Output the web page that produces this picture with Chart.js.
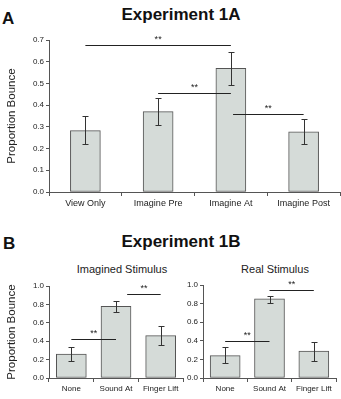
<!DOCTYPE html>
<html>
<head>
<meta charset="utf-8">
<script src="https://cdn.jsdelivr.net/npm/chart.js@4"></script>
<style>
  html,body{margin:0;padding:0;background:#fff;}
  body{width:341px;height:399px;position:relative;overflow:hidden;font-family:"Liberation Sans",Arial,sans-serif;color:#111;}
  .lbl{position:absolute;white-space:nowrap;}
  .big{font-size:17px;font-weight:bold;}
  .sub{font-size:11px;color:#222;transform:translateX(-50%);}
  canvas{position:absolute;}
</style>
</head>
<body>
<div class="lbl big" style="left:2px;top:9px;">A</div>
<div class="lbl big" style="left:181px;top:5px;transform:translateX(-50%);">Experiment 1A</div>
<div class="lbl big" style="left:3px;top:234px;">B</div>
<div class="lbl big" style="left:181px;top:232px;transform:translateX(-50%);">Experiment 1B</div>
<div class="lbl sub" style="left:122px;top:263px;">Imagined Stimulus</div>
<div class="lbl sub" style="left:275px;top:263px;">Real Stimulus</div>
<div style="position:absolute;left:0;top:30px;width:341px;height:190px;"><canvas id="c1A"></canvas></div>
<div style="position:absolute;left:0;top:275px;width:190px;height:124px;"><canvas id="c1BImag"></canvas></div>
<div style="position:absolute;left:170px;top:275px;width:171px;height:124px;"><canvas id="c1BReal"></canvas></div>
<script>
'use strict';
// Experiment 1A
const labels1A=['View Only','Imagine Pre','Imagine At','Imagine Post'];
const values1A=[0.283,0.37,0.57,0.277];
const lower1A=[0.22,0.31,0.495,0.222];
const upper1A=[0.35,0.432,0.645,0.335];
const sig1A=[[0,2,0.677],[1,2,0.456],[2.03,3,0.359]]; // from index, to index, height
const ticks1A=[0,0.1,0.2,0.3,0.4,0.5,0.6,0.7];

// Experiment 1B
const labels1B=['None','Sound At','Finger Lift'];
const valuesImag=[0.26,0.78,0.46];
const lowerImag=[0.18,0.72,0.36];
const upperImag=[0.34,0.84,0.57];
const sigImag=[[0,1,0.42],[1.25,2,0.91]];
const valuesReal=[0.24,0.85,0.29];
const lowerReal=[0.16,0.81,0.18];
const upperReal=[0.33,0.88,0.39];
const sigReal=[[0,1,0.40],[1,2,0.95]];
const ticks1B=[0,0.2,0.4,0.6,0.8,1.0];

const FONT='"Liberation Sans", Arial, sans-serif';

function xAt(scale,f){
  const i=Math.floor(f);
  const a=scale.getPixelForValue(i);
  if(f===i)return a;
  const b=scale.getPixelForValue(i+1);
  return a+(b-a)*(f-i);
}

const marksPlugin={
  id:'marks',
  afterDatasetsDraw(chart,args,opts){
    const ctx=chart.ctx,x=chart.scales.x,y=chart.scales.y;
    ctx.save();
    ctx.strokeStyle='#333';
    ctx.lineWidth=1;
    opts.lo.forEach((lo,i)=>{
      const px=Math.round(x.getPixelForValue(i))+0.5;
      const y0=Math.round(y.getPixelForValue(lo))+0.5;
      const y1=Math.round(y.getPixelForValue(opts.hi[i]))+0.5;
      ctx.beginPath();
      ctx.moveTo(px,y0);ctx.lineTo(px,y1);
      ctx.moveTo(px-3,y0);ctx.lineTo(px+3,y0);
      ctx.moveTo(px-3,y1);ctx.lineTo(px+3,y1);
      ctx.stroke();
    });
    ctx.strokeStyle='#222';
    ctx.fillStyle='#222';
    ctx.font='9px '+FONT;
    ctx.textAlign='center';
    ctx.textBaseline='bottom';
    opts.sig.forEach(s=>{
      const xa=xAt(x,s[0]),xb=xAt(x,s[1]);
      const py=Math.round(y.getPixelForValue(s[2]))+0.5;
      ctx.beginPath();ctx.moveTo(xa,py);ctx.lineTo(xb,py);ctx.stroke();
      ctx.fillText('**',(xa+xb)/2,py-1);
    });
    ctx.restore();
  }
};

function buildConfig(labels,values,lo,hi,sig,ticks,yWidth,xHeight,showTitle,pad,xFont){
  return {
    type:'bar',
    data:{labels,datasets:[{data:values,backgroundColor:'#d5dbd8',borderColor:'#555',borderWidth:1,borderSkipped:false,barThickness:30}]},
    plugins:[marksPlugin],
    options:{
      responsive:true,
      maintainAspectRatio:false,
      animation:false,
      layout:{padding:pad},
      plugins:{legend:{display:false},tooltip:{enabled:false},marks:{lo,hi,sig}},
      scales:{
        x:{
          grid:{display:true,offset:true,drawOnChartArea:false,tickLength:4,color:'#555'},
          border:{color:'#555'},
          ticks:{font:{family:FONT,size:xFont},color:'#222',padding:2,maxRotation:0,autoSkip:false},
          afterFit:s=>{s.width;s.height=xHeight;}
        },
        y:{
          min:0,max:ticks[ticks.length-1],
          afterBuildTicks:s=>{s.ticks=ticks.map(v=>({value:v}));},
          grid:{display:true,drawOnChartArea:false,tickLength:3,color:'#555'},
          border:{color:'#555'},
          ticks:{font:{family:FONT,size:8},color:'#222',padding:2,callback:v=>Number(v).toFixed(1)},
          title:{display:showTitle,text:'Proportion Bounce',font:{family:FONT,size:11.5},color:'#222',padding:{top:5,bottom:6}},
          afterFit:s=>{s.width=yWidth;}
        }
      }
    }
  };
}

new Chart(document.getElementById('c1A'),buildConfig(labels1A,values1A,lower1A,upper1A,sig1A,ticks1A,49,28,true,{top:10,right:1,left:0,bottom:0},9));
new Chart(document.getElementById('c1BImag'),buildConfig(labels1B,valuesImag,lowerImag,upperImag,sigImag,ticks1B,49,21,true,{top:11,right:7,left:0,bottom:0},8));
new Chart(document.getElementById('c1BReal'),buildConfig(labels1B,valuesReal,lowerReal,upperReal,sigReal,ticks1B,33,21,false,{top:10,right:5,left:0,bottom:0},8));
</script>
</body>
</html>
